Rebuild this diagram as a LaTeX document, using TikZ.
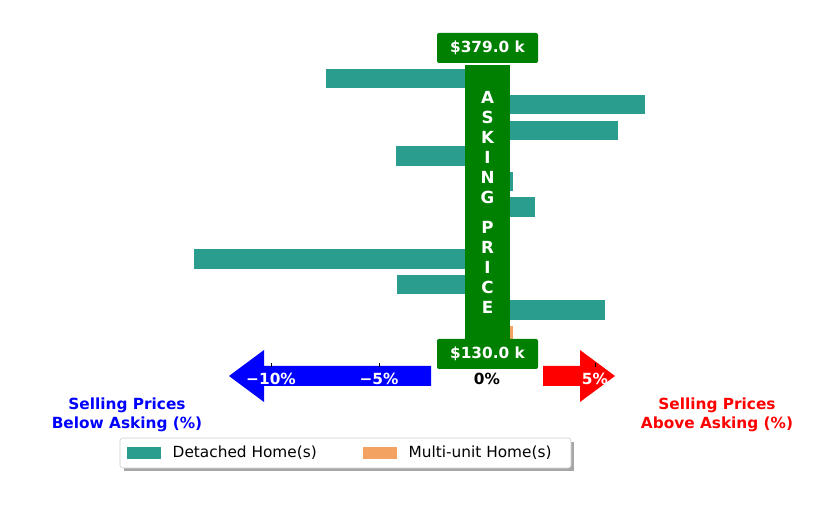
\documentclass[tikz,border=0pt]{standalone}
\usepackage{fontspec}
\setmainfont{DejaVu Sans}
\usetikzlibrary{shapes.arrows}
\definecolor{teal1}{HTML}{2A9D8F}
\definecolor{orng}{HTML}{F4A261}
\definecolor{gr}{HTML}{008000}
\begin{document}
\begin{tikzpicture}[x=0.75pt,y=-0.75pt,
 bar/.style={fill=teal1,draw=none},
 lbl/.style={fill=gr,text=white,font=\bfseries\fontsize{11.5}{13}\selectfont,rounded corners=1.5pt,minimum width=75.75pt,minimum height=22.5pt,inner sep=0pt},
 tk/.style={font=\bfseries\fontsize{11.5}{13}\selectfont},
 side/.style={font=\bfseries\fontsize{11.5}{14}\selectfont,align=center}]
\useasboundingbox (0,0) rectangle (839,509);
% bars
\path[bar] (326,69) rectangle (487,88);
\path[bar] (487,95) rectangle (645,114);
\path[bar] (487,121) rectangle (618,140);
\path[bar] (396,146) rectangle (487,166);
\path[bar] (487,172) rectangle (513,191);
\path[bar] (487,197) rectangle (535,217);
\path[bar] (194,249) rectangle (487,269);
\path[bar] (397,275) rectangle (487,294);
\path[bar] (487,300) rectangle (605,320);
\path[fill=orng] (487,326) rectangle (513,341);
% column
\node[fill=gr,minimum width=33.75pt,minimum height=206pt,inner sep=0pt,text=white,align=center,font=\bfseries\fontsize{12.5}{15}\selectfont] (col) at (487.5,202) {A\\S\\K\\I\\N\\G\\[0.6em]P\\R\\I\\C\\E};
\node[lbl] (top) at (487.5,48) {\$379.0 k};
\node[lbl] (bot) at (487.5,354) {\$130.0 k};
% arrows
\path[fill=blue] (431,366) -- (264,366) -- (264,350) -- (229,376) -- (264,402) -- (264,386) -- (431,386) -- cycle;
\path[fill=red] (543,366) -- (580,366) -- (580,350) -- (615,376) -- (580,402) -- (580,386) -- (543,386) -- cycle;
\foreach \x in {271,379,595} \draw[line width=0.6pt] (\x,363) -- (\x,367);
\node[tk,text=white] (t10) at (271,379) {−10\%};
\node[tk,text=white] (t5) at (379,379) {−5\%};
\node[tk] (t0) at (487,379) {0\%};
\node[tk,text=white] (tp5) at (595,379) {5\%};
\node[side,text=blue] (l) at (127,415) {Selling Prices\\Below Asking (\%)};
\node[side,text=red] (r) at (717,415) {Selling Prices\\Above Asking (\%)};
% legend
\fill[black!35] (124,442) rectangle (574,471);
\draw[black!20,fill=white,rounded corners=2pt] (120,438) rectangle (571,468);
\fill[teal1] (127,447) rectangle (161,459);
\node[anchor=west,font=\fontsize{11.5}{13}\selectfont] (d) at (168,453) {Detached Home(s)};
\fill[orng] (363,447) rectangle (397,459);
\node[anchor=west,font=\fontsize{11.5}{13}\selectfont] (m) at (404,453) {Multi-unit Home(s)};
\end{tikzpicture}
\end{document}
